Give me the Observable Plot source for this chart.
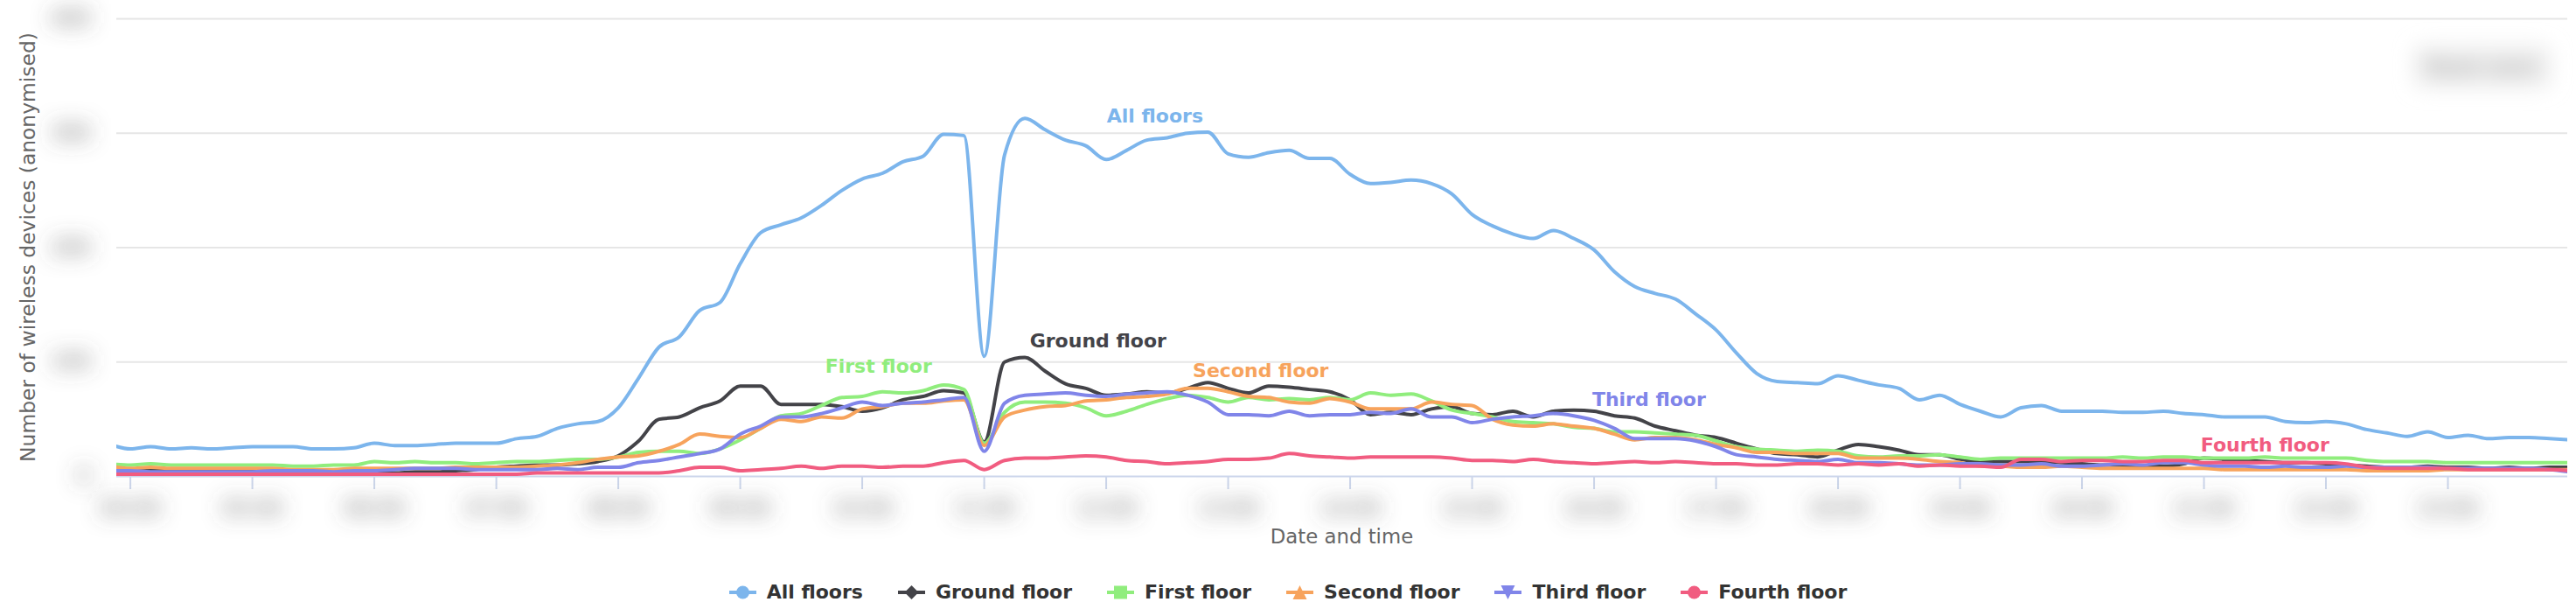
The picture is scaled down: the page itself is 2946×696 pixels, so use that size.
<!DOCTYPE html>
<html><head><meta charset="utf-8">
<script src="https://cdn.jsdelivr.net/npm/d3@7"></script>
<script src="https://cdn.jsdelivr.net/npm/@observablehq/plot@0.6"></script>
<style>
html,body{margin:0;padding:0;background:#fff;}
body{width:2946px;height:696px;position:relative;overflow:hidden;font-family:"DejaVu Sans",sans-serif;}
#legend{position:absolute;left:0;top:664px;width:2946px;height:26px;display:flex;justify-content:center;align-items:center;gap:40px;}
.item{display:flex;align-items:center;gap:12px;font-weight:bold;font-size:22px;color:#333;line-height:26px;white-space:nowrap;}
.item svg{display:block;}
</style></head><body>
<div id="chart"></div>
<div id="legend"></div>
<script>
// ---------- data ----------
const seriesNames = ["All floors", "Ground floor", "First floor", "Second floor", "Third floor", "Fourth floor"];
const seriesColors = ["#7cb5ec", "#434348", "#90ed7d", "#f7a35c", "#8085e9", "#f15c80"];
const seriesSymbols = ["circle", "diamond", "square", "triangle", "triangle-down", "circle"];

// samples every 10 minutes, first sample at 03:50
const firstSample = [3, 50];
const stepMinutes = 10;
const xDomainStart = [3, 53, 17];
const xDomainEnd = [23, 58, 55];
const yTicks = [0, 100, 200, 300, 400];
const xTickHours = [4,5,6,7,8,9,10,11,12,13,14,15,16,17,18,19,20,21,22,23];

const allFloors = [28,24,26,24,25,24,25,26,26,26,24,24,25,29,27,27,28,29,29,29,33,35,42,46,48,60,86,113,122,145,152,186,213,220,226,237,250,260,265,275,280,299,298,105,281,313,303,294,289,277,285,294,296,300,301,282,279,283,285,278,278,264,256,257,259,256,247,229,219,212,208,215,208,198,179,166,160,155,142,128,108,90,83,82,81,88,84,80,77,67,71,63,57,52,60,62,57,57,57,56,56,57,55,54,52,52,52,48,47,48,46,41,38,35,39,34,36,33,34,34,33,32];
const groundFloor = [6,6,6,6,5,5,5,5,5,5,4,4,4,3,3,4,4,5,6,8,9,10,10,11,13,18,31,50,52,60,66,79,79,63,63,63,61,57,60,67,70,75,73,30,100,104,92,81,77,71,72,74,73,77,82,77,73,79,78,76,74,67,54,56,54,59,61,55,54,57,52,57,58,57,53,51,44,40,36,34,29,24,20,19,17,23,28,26,23,19,19,15,13,13,13,13,12,11,10,10,9,9,11,16,15,14,13,12,12,11,10,9,8,8,9,8,8,7,8,7,8,8];
const firstFloor = [11,10,11,10,10,10,10,10,10,9,9,10,10,13,12,13,12,12,11,12,13,13,14,15,15,17,21,22,22,20,24,32,42,53,55,62,69,70,74,73,75,80,76,29,56,65,65,64,60,53,57,63,68,71,69,65,69,67,68,67,69,67,73,71,72,66,58,55,52,48,47,46,43,42,39,39,38,37,36,31,26,24,23,22,23,22,18,17,18,18,19,17,15,16,16,16,16,16,16,17,16,17,17,16,16,16,17,16,16,16,16,14,13,13,13,12,12,12,12,12,12,12];
const secondFloor = [9,7,8,7,7,7,7,7,7,6,6,6,7,7,7,7,7,8,8,8,8,9,10,12,15,17,18,22,28,37,35,34,42,50,48,52,51,59,61,64,64,66,67,27,52,58,61,62,66,67,69,70,72,77,77,74,70,69,65,64,68,65,59,59,59,65,63,62,50,45,44,46,44,42,37,32,34,34,32,28,25,21,21,20,20,20,16,16,16,15,13,12,9,9,8,8,9,8,7,7,7,7,7,7,6,6,6,6,6,6,6,5,5,5,5,6,6,6,6,6,6,6];
const thirdFloor = [5,5,4,4,4,4,4,4,5,5,5,4,5,5,6,7,7,7,6,6,6,6,7,6,8,8,12,14,17,20,24,37,44,52,52,55,60,65,62,64,65,67,69,22,64,71,72,73,71,70,72,73,74,71,65,54,54,53,57,53,54,54,56,55,59,52,52,47,50,52,53,55,53,49,42,33,33,33,31,26,19,17,15,14,13,15,12,12,11,10,10,11,11,10,10,11,9,9,10,11,10,12,12,10,9,9,8,9,8,8,9,8,8,8,8,7,7,7,7,7,6,4];
const fourthFloor = [2,2,2,2,2,2,2,2,2,2,2,2,2,2,2,2,2,2,2,2,2,3,3,3,3,3,3,3,5,8,8,5,6,7,9,7,9,9,8,9,9,12,14,6,14,16,16,17,18,17,14,13,11,12,13,15,15,16,20,18,17,16,17,17,17,17,16,14,14,13,15,13,12,11,12,13,12,13,12,11,11,10,10,11,11,10,11,10,11,9,10,9,9,8,15,15,13,14,14,13,13,14,14,12,12,12,12,12,12,12,11,8,7,7,7,7,6,6,6,6,6,5];
const seriesValues = [allFloors, groundFloor, firstFloor, secondFloor, thirdFloor, fourthFloor];

// in-chart series labels (time, value)
const labelNames = ["All floors", "Ground floor", "First floor", "Second floor", "Third floor", "Fourth floor"];
const labelTimes = ["12:24", "11:56", "10:08", "13:16", "16:27", "21:30"];
const labelValues = [315, 118.5, 96, 92.5, 67, 27];

const yTitle = "Number of wireless devices (anonymised)";
const xTitle = "Date and time";
const resetLabel = "Reset zoom";

// ---------- build ----------
const day = (h, m, s = 0) => new Date(2019, 0, 1, h, m, s);
const times = allFloors.map((_, i) => day(firstSample[0], firstSample[1] + i * stepMinutes));
const rows = [];
seriesNames.forEach((name, s) => seriesValues[s].forEach((v, i) => rows.push({series: name, time: times[i], value: v})));
const xTicks = xTickHours.map(h => day(h, 0));
const labels = labelNames.map((n, i) => {
  const [h, m] = labelTimes[i].split(":").map(Number);
  return {name: n, time: day(h, m), value: labelValues[i], color: seriesColors[seriesNames.indexOf(n)]};
});

const chart = Plot.plot({
  width: 2946,
  height: 640,
  marginLeft: 133,
  marginRight: 10,
  marginTop: 21,
  marginBottom: 96,
  style: {fontFamily: "DejaVu Sans", fontSize: "22px", background: "#fff", overflow: "visible"},
  x: {type: "time", domain: [day(...xDomainStart), day(...xDomainEnd)]},
  y: {domain: [0, 400]},
  marks: [
    Plot.gridY(yTicks.filter(d => d > 0), {stroke: "#e6e6e6", strokeOpacity: 1, strokeWidth: 2}),
    Plot.axisX(xTicks, {tickFormat: d3.timeFormat("%H:%M"), tickSize: 15, tickPadding: 12, stroke: "#ccd6eb", strokeOpacity: 1, strokeWidth: 2, fill: "#555", fontSize: 24, label: null}),
    Plot.axisY(yTicks, {tickSize: 0, tickPadding: 30, fill: "#555", fontSize: 24, label: null}),
    Plot.ruleY([0], {stroke: "#ccd6eb", strokeWidth: 2}),
    ...seriesNames.map((name, s) => Plot.line(rows.filter(r => r.series === name), {
      x: "time", y: "value", stroke: seriesColors[s], strokeWidth: 4, curve: "monotone-x", clip: true,
      strokeLinejoin: "round", strokeLinecap: "round"
    })),
    Plot.text(labels, {x: "time", y: "value", text: "name", fill: "color", fontWeight: "bold", fontSize: 22, fontFamily: "DejaVu Sans"})
  ]
});
document.getElementById("chart").appendChild(chart);

// ---------- decorations (anonymised labels, titles) ----------
const svg = d3.select(chart);
const xs = chart.scale("x"), ys = chart.scale("y");
const defs = svg.insert("defs", ":first-child");
const f = defs.append("filter").attr("id", "anon").attr("x", "-80%").attr("y", "-200%").attr("width", "260%").attr("height", "500%");
f.append("feGaussianBlur").attr("stdDeviation", 12);
const f2 = defs.append("filter").attr("id", "anon2").attr("x", "-60%").attr("y", "-150%").attr("width", "220%").attr("height", "400%");
f2.append("feGaussianBlur").attr("stdDeviation", 12);

svg.selectAll('[aria-label$="tick label"]').attr("filter", "url(#anon)");

const plotLeft = xs.range[0], plotRight = xs.range[1];
const plotBottom = ys.range[0], plotTop = ys.range[1];

// y axis title
svg.append("text")
  .attr("transform", `translate(32,${(plotTop + plotBottom) / 2}) rotate(-90)`)
  .attr("text-anchor", "middle").attr("dy", "0.35em")
  .attr("fill", "#666").attr("font-size", 23.4).attr("font-family", "DejaVu Sans")
  .text(yTitle);

// x axis title
svg.append("text")
  .attr("x", (plotLeft + plotRight) / 2).attr("y", plotBottom + 69)
  .attr("text-anchor", "middle").attr("dy", "0.35em")
  .attr("fill", "#666").attr("font-size", 22.8).attr("font-family", "DejaVu Sans")
  .text(xTitle);

// blurred reset zoom button
const btn = svg.append("g").attr("filter", "url(#anon2)");
btn.append("rect").attr("x", plotRight - 172).attr("y", plotTop + 34).attr("width", 150).attr("height", 42).attr("rx", 4)
  .attr("fill", "#f2f2f2").attr("stroke", "#cccccc").attr("stroke-width", 2);
btn.append("text").attr("x", plotRight - 97).attr("y", plotTop + 55).attr("dy", "0.35em").attr("text-anchor", "middle")
  .attr("fill", "#333").attr("font-size", 22).attr("font-family", "DejaVu Sans").text(resetLabel);

// ---------- legend ----------
const legend = d3.select("#legend");
seriesNames.forEach((name, s) => {
  const item = legend.append("div").attr("class", "item");
  const sv = item.append("svg").attr("width", 31).attr("height", 18);
  const c = seriesColors[s], cx = 15.5, cy = 9, r = 7.5;
  sv.append("line").attr("x1", 0).attr("x2", 31).attr("y1", cy).attr("y2", cy).attr("stroke", c).attr("stroke-width", 4);
  const sym = seriesSymbols[s];
  if (sym === "circle") sv.append("circle").attr("cx", cx).attr("cy", cy).attr("r", r).attr("fill", c);
  else if (sym === "square") sv.append("rect").attr("x", cx - 7.5).attr("y", cy - 7.5).attr("width", 15).attr("height", 15).attr("fill", c);
  else {
    const pts = sym === "diamond" ? [[cx, cy - 8], [cx + 8, cy], [cx, cy + 8], [cx - 8, cy]]
      : sym === "triangle" ? [[cx, cy - 8], [cx + 8, cy + 8], [cx - 8, cy + 8]]
      : [[cx - 8, cy - 8], [cx + 8, cy - 8], [cx, cy + 8]];
    sv.append("polygon").attr("points", pts.map(p => p.join(",")).join(" ")).attr("fill", c);
  }
  item.append("span").text(name);
});
</script>
</body></html>
